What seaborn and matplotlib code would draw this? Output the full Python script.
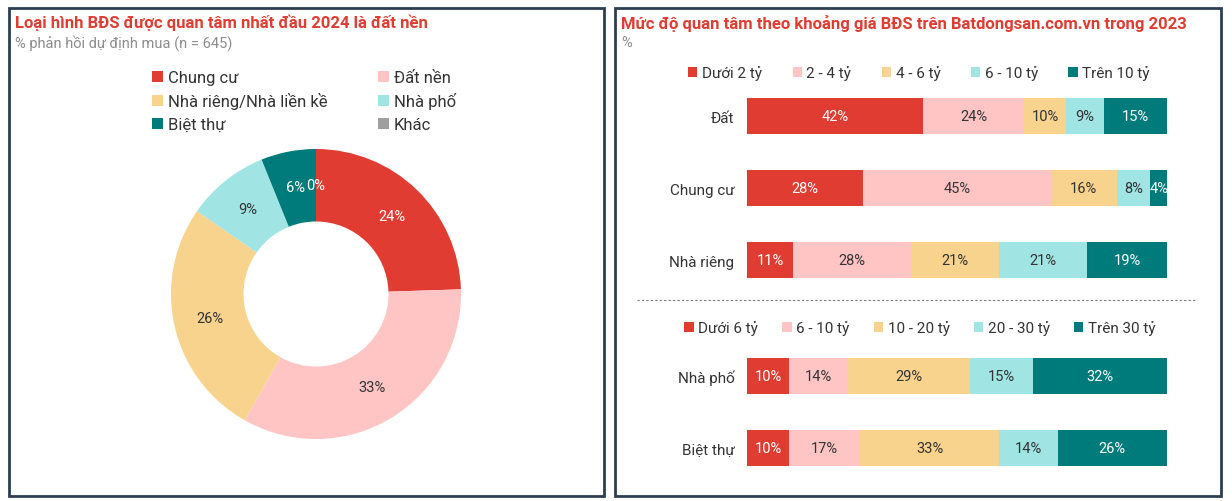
import numpy as np
import pandas as pd
import matplotlib
matplotlib.use("Agg")
import matplotlib.pyplot as plt
import seaborn as sns
from matplotlib.patches import Rectangle, Patch
from matplotlib.lines import Line2D

sns.set_theme(style="white")
plt.rcParams['font.family'] = ['Roboto', 'DejaVu Sans']

# ---------------- data ----------------
pie_labels = ["Chung cư", "Đất nền", "Nhà riêng/Nhà liền kề", "Nhà phố", "Biệt thự", "Khác"]
pie_values = [24, 33, 26, 9, 6, 0]

top_cats = ["Đất", "Chung cư", "Nhà riêng"]
top_ranges = ["Dưới 2 tỷ", "2 - 4 tỷ", "4 - 6 tỷ", "6 - 10 tỷ", "Trên 10 tỷ"]
dat_vals = [42, 24, 10, 9, 15]
chungcu_vals = [28, 45, 16, 8, 4]
nharieng_vals = [11, 28, 21, 21, 19]

bot_cats = ["Nhà phố", "Biệt thự"]
bot_ranges = ["Dưới 6 tỷ", "6 - 10 tỷ", "10 - 20 tỷ", "20 - 30 tỷ", "Trên 30 tỷ"]
nhapho_vals = [10, 14, 29, 15, 32]
bietthu_vals = [10, 17, 33, 14, 26]

left_title = "Loại hình BĐS được quan tâm nhất đầu 2024 là đất nền"
left_sub = "% phản hồi dự định mua (n = 645)"
right_title = "Mức độ quan tâm theo khoảng giá BĐS trên Batdongsan.com.vn trong 2023"
right_sub = "%"

# ---------------- style ----------------
RED = "#E03C31"; PINK = "#FFC5C5"; YEL = "#F8D38D"; CYAN = "#A0E4E4"; TEAL = "#007B7B"; GRAY = "#A0A0A0"
pie_colors = [RED, PINK, YEL, CYAN, TEAL, GRAY]
pie_text_colors = ["white", "#333333", "#333333", "#333333", "white", "white"]
seg_colors = [RED, PINK, YEL, CYAN, TEAL]
seg_text_colors = ["white", "#333333", "#333333", "#333333", "white"]
DARK = "#333333"

W, H = 1232, 502
fig = plt.figure(figsize=(W / 100, H / 100), dpi=100)
fig.patch.set_facecolor("white")


def fx(px):
    return px / W


def fy(py):
    return 1 - py / H


# panel borders
for x0, x1 in [(9, 604), (615, 1221)]:
    fig.patches.append(Rectangle((fx(x0), fy(497)), fx(x1 - x0), (497 - 9) / H,
                                 transform=fig.transFigure, fill=False,
                                 edgecolor="#2C3E50", linewidth=2))

# titles
fig.text(fx(15), fy(23), left_title, color=RED, fontsize=12, fontweight="bold", va="center", ha="left")
fig.text(fx(15), fy(43), left_sub, color="#8C8C8C", fontsize=10.5, va="center", ha="left")
fig.text(fx(621), fy(23), right_title, color=RED, fontsize=12, fontweight="bold", va="center", ha="left")
fig.text(fx(621), fy(43), right_sub, color="#8C8C8C", fontsize=10.5, va="center", ha="left")

# ---------------- donut ----------------
cx, cy, R = 316, 295, 145
axp = fig.add_axes([fx(cx - R), fy(cy + R), fx(2 * R), 2 * R / H])
wedges, _ = axp.pie(pie_values, colors=pie_colors, startangle=90, counterclock=False,
                    wedgeprops=dict(width=0.5, edgecolor="none"), radius=1)
for w, v, tc in zip(wedges, pie_values, pie_text_colors):
    ang = np.deg2rad((w.theta1 + w.theta2) / 2)
    axp.text(0.75 * np.cos(ang), 0.75 * np.sin(ang), f"{v}%", ha="center", va="center",
             color=tc, fontsize=10.5)
axp.set_xlim(-1, 1)
axp.set_ylim(-1, 1)
axp.set_aspect("equal")
axp.axis("off")

order = [0, 2, 4, 1, 3, 5]
handles = [Patch(facecolor=pie_colors[i], edgecolor="none", label=pie_labels[i]) for i in order]
fig.legend(handles=handles, ncol=2, loc="center", bbox_to_anchor=(fx(304), fy(102)),
           frameon=False, fontsize=12, handlelength=0.65, handleheight=0.65,
           handletextpad=0.3, columnspacing=3.0, labelspacing=0.45, labelcolor=DARK)


# ---------------- stacked bars ----------------
def stacked(ax, cats, rows):
    data = np.array(rows, dtype=float)
    pct = data / data.sum(axis=1, keepdims=True) * 100
    cum = np.cumsum(pct, axis=1)
    for k in range(data.shape[1] - 1, -1, -1):
        df = pd.DataFrame({"cat": cats, "end": cum[:, k]})
        sns.barplot(data=df, x="end", y="cat", orient="h", color=seg_colors[k],
                    saturation=1, width=0.5, ax=ax, edgecolor="none", linewidth=0)
    for i in range(len(cats)):
        for k in range(data.shape[1]):
            mid = cum[i, k] - pct[i, k] / 2
            ax.text(mid, i, f"{data[i, k]:.0f}%", ha="center", va="center",
                    color=seg_text_colors[k], fontsize=10.5)
    ax.set_xlim(0, 100)
    ax.set_ylim(len(cats) - 0.5, -0.5)
    ax.set_xlabel("")
    ax.set_ylabel("")
    ax.set_xticks([])
    for s in ax.spines.values():
        s.set_visible(False)
    ax.tick_params(axis="y", length=0, pad=9, labelsize=11, labelcolor=DARK)
    ax.set_facecolor("none")


bx0, bx1 = 747, 1167
ax_top = fig.add_axes([fx(bx0), fy(297), fx(bx1 - bx0), 216 / H])
stacked(ax_top, top_cats, [dat_vals, chungcu_vals, nharieng_vals])
ax_bot = fig.add_axes([fx(bx0), fy(485), fx(bx1 - bx0), 144 / H])
stacked(ax_bot, bot_cats, [nhapho_vals, bietthu_vals])

for ranges, ycen, xc, cs in [(top_ranges, 74, 919, 2.0), (bot_ranges, 329, 920, 1.6)]:
    hs = [Patch(facecolor=c, edgecolor="none", label=r) for c, r in zip(seg_colors, ranges)]
    fig.legend(handles=hs, ncol=5, loc="center", bbox_to_anchor=(fx(xc), fy(ycen)),
               frameon=False, fontsize=11, handlelength=0.6, handleheight=0.6,
               handletextpad=0.3, columnspacing=cs, labelcolor=DARK)

# dashed separator
fig.lines.append(Line2D([fx(637), fx(1197)], [fy(301), fy(301)], transform=fig.transFigure,
                        color="#777777", linestyle=(0, (2, 2)), linewidth=0.8))

fig.savefig("out.png", dpi=100, facecolor="white")
